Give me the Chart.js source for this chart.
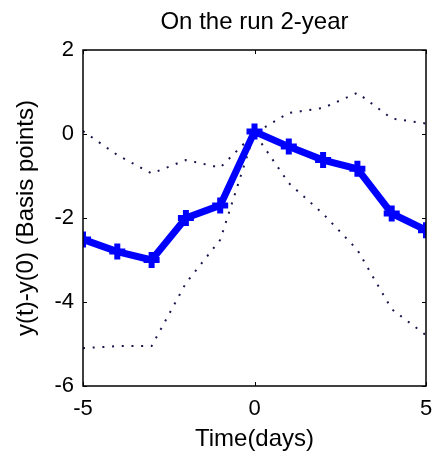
<!DOCTYPE html>
<html>
<head>
<meta charset="utf-8">
<script src="https://cdn.jsdelivr.net/npm/chart.js@4"></script>
<style>
  html, body { margin: 0; padding: 0; background: #fff; }
  #wrap { width: 433px; height: 456px; }
</style>
</head>
<body>
<div id="wrap"><canvas id="chart" width="433" height="456"></canvas></div>
<script>
const days = [-5, -4, -3, -2, -1, 0, 1, 2, 3, 4, 5];
const response = [-2.51, -2.8, -3.0, -2.0, -1.7, 0.06, -0.3, -0.62, -0.83, -1.89, -2.29];
const upperBand = [0.07, -0.5, -0.94, -0.62, -0.8, 0.02, 0.5, 0.62, 0.98, 0.37, 0.25];
const lowerBand = [-5.1, -5.05, -5.05, -3.55, -2.52, 0.02, -1.17, -1.9, -2.76, -4.17, -4.79];
const xTicks = [-5, 0, 5];
const yTicks = [-6, -4, -2, 0, 2];
const chartTitle = "On the run 2-year";

const FONT = "'Liberation Sans', Arial, Helvetica, sans-serif";

const toPoints = (values) => days.map((d, i) => ({ x: d, y: values[i] }));

// matlab style box with inward ticks on all four sides, title centred over the axes
const boxPlugin = {
  id: "box",
  afterDatasetsDraw(chart) {
    const { ctx, chartArea: a, scales } = chart;
    ctx.save();
    ctx.strokeStyle = "#000";
    ctx.lineWidth = 1.5;
    ctx.strokeRect(a.left, a.top, a.right - a.left, a.bottom - a.top);
    ctx.lineWidth = 1;
    const len = 4;
    ctx.beginPath();
    for (const v of xTicks) {
      const px = Math.round(scales.x.getPixelForValue(v)) + 0.5;
      ctx.moveTo(px, a.bottom); ctx.lineTo(px, a.bottom - len);
      ctx.moveTo(px, a.top); ctx.lineTo(px, a.top + len);
    }
    for (const v of yTicks) {
      const py = Math.round(scales.y.getPixelForValue(v)) + 0.5;
      ctx.moveTo(a.left, py); ctx.lineTo(a.left + len, py);
      ctx.moveTo(a.right, py); ctx.lineTo(a.right - len, py);
    }
    ctx.stroke();

    ctx.fillStyle = "#000";
    ctx.font = `24px ${FONT}`;
    ctx.textAlign = "center";
    ctx.textBaseline = "middle";
    ctx.fillText(chartTitle, (a.left + a.right) / 2, 22);
    ctx.restore();
  },
};

const bandStyle = {
  borderColor: "#16164e",
  borderWidth: 2,
  borderDash: [2, 7.7],
  pointRadius: 0,
  tension: 0,
  fill: false,
};

new Chart(document.getElementById("chart"), {
  type: "line",
  data: {
    datasets: [
      {
        label: "response",
        data: toPoints(response),
        borderColor: "#0000ff",
        backgroundColor: "#0000ff",
        borderWidth: 7,
        pointStyle: "cross",
        pointRadius: 8,
        pointBorderWidth: 6,
        pointBorderColor: "#0000ff",
        tension: 0,
      },
      { label: "upper", data: toPoints(upperBand), ...bandStyle },
      { label: "lower", data: toPoints(lowerBand), ...bandStyle },
    ],
  },
  options: {
    responsive: false,
    animation: false,
    events: [],
    layout: { autoPadding: false, padding: { left: 0, right: 7, top: 50, bottom: 0 } },
    plugins: {
      legend: { display: false },
      tooltip: { enabled: false },
      title: { display: false },
    },
    scales: {
      x: {
        type: "linear",
        min: -5,
        max: 5,
        afterFit: (scale) => {
          scale.height = 70;
          scale.paddingLeft = 0;
          scale.paddingRight = 0;
        },
        afterBuildTicks: (scale) => { scale.ticks = xTicks.map((v) => ({ value: v })); },
        grid: { display: false, drawTicks: false },
        border: { display: false },
        ticks: { color: "#000", font: { family: FONT, size: 22 }, padding: 10, maxRotation: 0 },
        title: {
          display: true,
          text: "Time(days)",
          color: "#000",
          font: { family: FONT, size: 24, lineHeight: 1 },
          padding: { top: 5, bottom: 5 },
        },
      },
      y: {
        type: "linear",
        min: -6,
        max: 2,
        afterFit: (scale) => {
          scale.width = 83;
          scale.paddingTop = 0;
          scale.paddingBottom = 0;
        },
        afterBuildTicks: (scale) => { scale.ticks = yTicks.map((v) => ({ value: v })); },
        grid: { display: false, drawTicks: false },
        border: { display: false },
        ticks: { color: "#000", font: { family: FONT, size: 22 }, padding: 9 },
        title: {
          display: true,
          text: "y(t)-y(0) (Basis points)",
          color: "#000",
          font: { family: FONT, size: 24, lineHeight: 1 },
          padding: { top: 14, bottom: 14 },
        },
      },
    },
  },
  plugins: [boxPlugin],
});
</script>
</body>
</html>
